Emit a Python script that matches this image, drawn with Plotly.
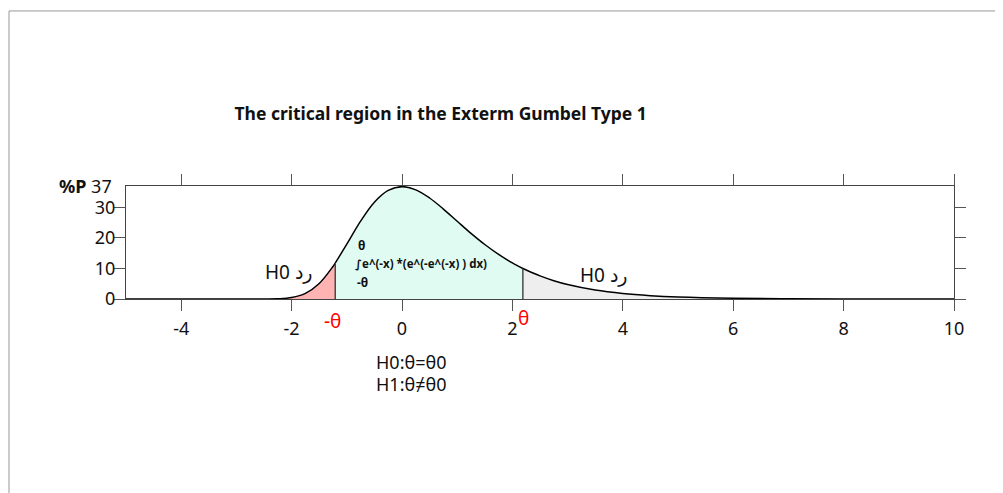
import plotly.graph_objects as go

# Gumbel type 1 density (percent)
x_vals = [-5, -4, -3, -2.5, -2.25, -2, -1.75, -1.5, -1.25, -1.21, -1, -0.75, -0.5, -0.25, 0,
          0.25, 0.5, 0.75, 1, 1.25, 1.5, 1.75, 2, 2.19, 2.25, 2.5, 2.75, 3, 3.5, 4, 4.5,
          5, 6, 7, 8, 9, 10]
p_vals = [0, 0, 0, 0.01, 0.07, 0.46, 1.82, 5.07, 10.65, 11.73, 17.94, 25.49, 31.70, 35.56, 36.79,
          35.74, 33.07, 29.45, 25.46, 21.51, 17.85, 14.60, 11.82, 10.0, 9.49, 7.56, 6.00, 4.74, 2.93, 1.80, 1.10,
          0.67, 0.25, 0.09, 0.03, 0.01, 0]

theta_low = -1.21
theta_high = 2.19
x_ticks = [-4, -2, 0, 2, 4, 6, 8, 10]
x_labels = ["-4", "-2", "0", "2", "4", "6", "8", "10"]
y_ticks = [0, 10, 20, 30]
y_top = 37

regions = [
    (lambda v: v <= theta_low, "#ffb3b3"),
    (lambda v: theta_low <= v <= theta_high, "#e0fcf2"),
    (lambda v: v >= theta_high, "#eeeeee"),
]

fig = go.Figure()
for test, col in regions:
    xs = [x for x in x_vals if test(x)]
    ys = [p for x, p in zip(x_vals, p_vals) if test(x)]
    fig.add_trace(go.Scatter(x=xs, y=ys, mode="lines", fill="tozeroy", fillcolor=col,
                             line=dict(color="black", width=1.5, shape="spline"),
                             hoverinfo="skip"))

for t in [theta_low, theta_high]:
    fig.add_trace(go.Scatter(x=[t, t], y=[0, p_vals[x_vals.index(t)]], mode="lines",
                             line=dict(color="#222", width=1.2), hoverinfo="skip"))

font = "Noto Sans, DejaVu Sans, sans-serif"

ann = []
ann.append(dict(x=-0.015, y=y_top, xref="paper", yref="y", text="<b>%P</b> 37", showarrow=False,
                xanchor="right", yanchor="middle", font=dict(size=18, color="#111")))
for xx, yy in [(-2.05, 8.9), (3.66, 7.9)]:
    ann.append(dict(x=xx, y=yy, text="H0 رد", showarrow=False, font=dict(size=19, color="#111")))
ann.append(dict(x=theta_low - 0.05, y=-0.195, yref="paper", text="-θ", showarrow=False,
                yanchor="middle", font=dict(size=19, color="red")))
ann.append(dict(x=theta_high + 0.02, y=-0.168, yref="paper", text="θ", showarrow=False,
                yanchor="middle", font=dict(size=19, color="red")))
ann.append(dict(x=-0.83, y=17.4, text="<b>θ</b>", showarrow=False, xanchor="left", font=dict(size=12, color="#111")))
ann.append(dict(x=-0.88, y=11.6, text="<b>∫e^(-x) *(e^(-e^(-x) ) dx)</b>", showarrow=False, xanchor="left",
                font=dict(size=11.5, color="#111")))
ann.append(dict(x=-0.85, y=5.4, text="<b>-θ</b>", showarrow=False, xanchor="left", font=dict(size=12, color="#111")))
ann.append(dict(x=0.344, y=-0.558, xref="paper", yref="paper", text="H0:θ=θ0", showarrow=False,
                yanchor="middle", font=dict(size=18, color="#111")))
ann.append(dict(x=0.344, y=-0.752, xref="paper", yref="paper", text="H1:θ≠θ0", showarrow=False,
                yanchor="middle", font=dict(size=18, color="#111")))

fig.update_layout(
    width=1003, height=493,
    margin=dict(l=118, r=57, t=178, b=202),
    paper_bgcolor="white", plot_bgcolor="white",
    showlegend=False,
    font=dict(family=font, size=18, color="#111"),
    title=dict(text="<b>The critical region in the Exterm Gumbel Type 1</b>", x=0.38, xref="paper",
               xanchor="center", y=1 - 106 / 493, yanchor="middle", font=dict(size=17.5, color="#111")),
    annotations=ann,
    shapes=[
        dict(type="line", xref="paper", yref="paper", x0=-0.1413, x1=1.08, y0=2.549, y1=2.549,
             line=dict(color="#999", width=1)),
        dict(type="line", xref="paper", yref="paper", x0=-0.1413, x1=-0.1413, y0=2.549, y1=-1.8,
             line=dict(color="#999", width=1)),
    ],
)
fig.update_xaxes(range=[-5, 10], tickvals=x_ticks, ticktext=x_labels, showgrid=False, zeroline=False,
                 showline=True, linecolor="#444", linewidth=1.2, mirror="ticks",
                 ticks="outside", ticklen=11, tickcolor="#555", ticklabelstandoff=2)
fig.update_yaxes(range=[0, y_top], tickvals=y_ticks, showgrid=False, zeroline=False,
                 showline=True, linecolor="#444", linewidth=1.2, mirror="ticks",
                 ticks="outside", ticklen=11, tickcolor="#555", ticklabelstandoff=-5)

fig.write_html("out.html")
